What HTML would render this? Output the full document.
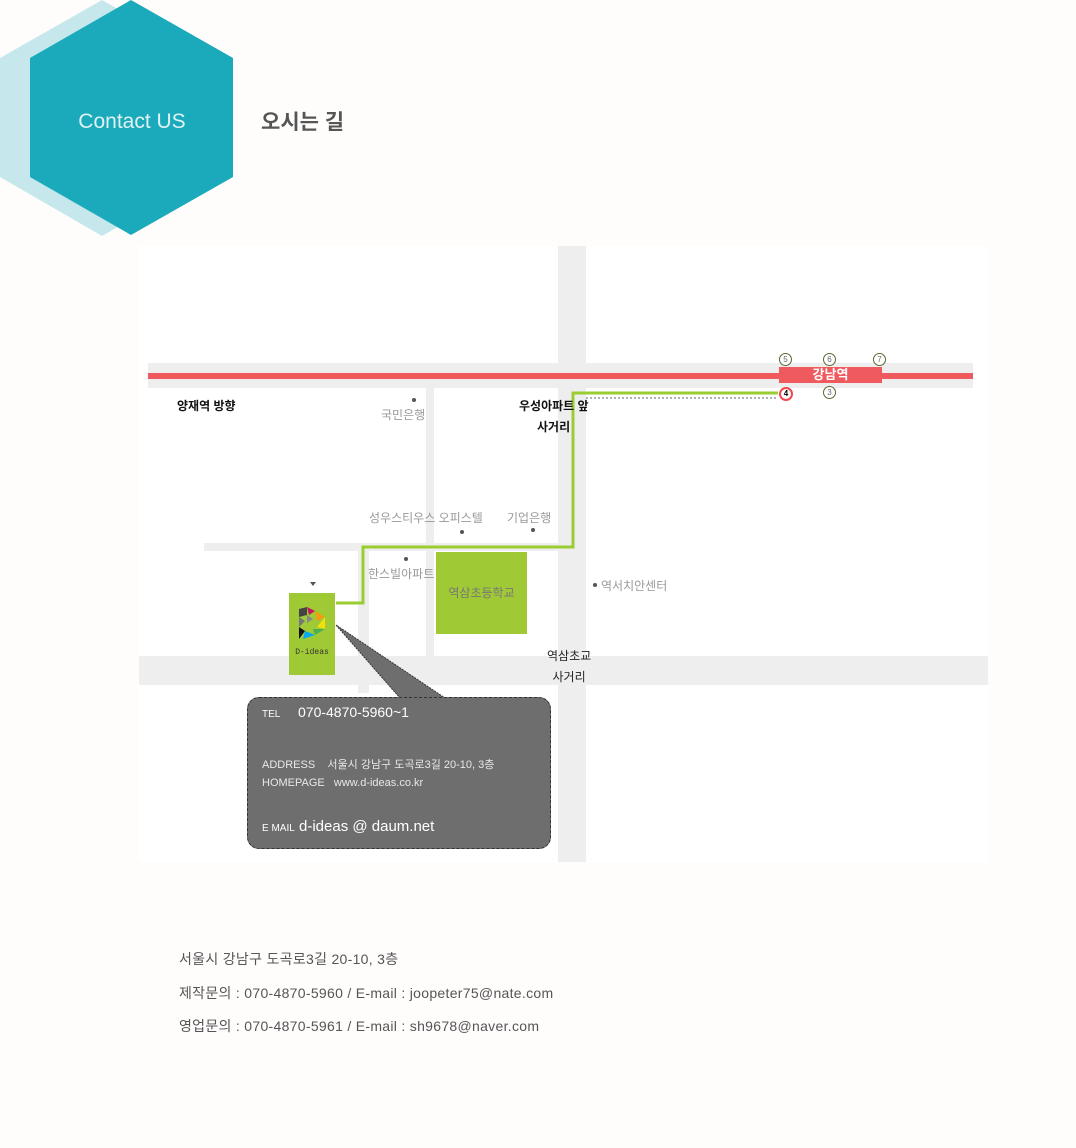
<!DOCTYPE html>
<html><head><meta charset="utf-8"><style>
body{margin:0;width:1076px;height:1148px;background:#fffcfc;position:relative;overflow:hidden;font-family:"Liberation Sans","Noto Sans CJK KR",sans-serif}
.a{position:absolute}
.r{position:absolute;background:#eeeeee}
.t{position:absolute;font-size:12px;color:#999;white-space:nowrap}
.b{position:absolute;font-size:12px;color:#111;white-space:nowrap;font-weight:bold}
.d{position:absolute;width:4px;height:4px;border-radius:50%;background:#555}
.c{position:absolute;width:11px;height:11px;border:1.5px solid #556b2f;border-radius:50%;font-size:8px;line-height:11px;text-align:center;color:#666;background:#fff}
.f{position:absolute;left:179px;font-size:14px;color:#555;letter-spacing:0.3px;white-space:nowrap}
</style></head><body>
<svg class="a" style="left:0;top:0" width="240" height="240">
<polygon points="102,0 204,58 204,177 102,236 0,177 0,58" fill="#c6e8ec"/>
<polygon points="131,0 233,58 233,177 131,235 30,177 30,58" fill="#1aaabb"/>
<text x="132" y="128" text-anchor="middle" font-size="21" fill="#dff2f4" font-family="Liberation Sans,sans-serif">Contact US</text>
</svg>
<div class="a" style="left:261px;top:106px;font-size:21px;font-weight:bold;color:#555">오시는 길</div>

<div class="a" style="left:139px;top:246px;width:849px;height:616px;background:#fff"></div>
<div class="r" style="left:558px;top:246px;width:28px;height:616px"></div>
<div class="r" style="left:148px;top:363px;width:825px;height:25px"></div>
<div class="a" style="left:148px;top:373px;width:825px;height:6px;background:#ef5a5f"></div>
<div class="r" style="left:139px;top:656px;width:849px;height:29px"></div>
<div class="r" style="left:204px;top:543px;width:371px;height:8px"></div>
<div class="r" style="left:426px;top:388px;width:8px;height:268px"></div>
<div class="r" style="left:358px;top:551px;width:11px;height:142px"></div>

<svg class="a" style="left:0;top:0" width="1076" height="900">
<polyline points="336,603 363,603 363,547 573,547 573,393 778,393" fill="none" stroke="#9acd32" stroke-width="3"/>
<line x1="586" y1="398" x2="778" y2="398" stroke="#666" stroke-width="1" stroke-dasharray="2,2"/>
<polygon points="336,625 400,698 445,698" fill="#6e6e6e" stroke="#333" stroke-dasharray="2,1"/>
<polygon points="310,582 316,582 313,586" fill="#555"/>
</svg>

<div class="a" style="left:779px;top:367px;width:103px;height:16px;background:#ef5a5f;color:#fff;font-size:13px;font-weight:bold;text-align:center;line-height:16px">강남역</div>
<div class="c" style="left:779px;top:353px">5</div>
<div class="c" style="left:823px;top:353px">6</div>
<div class="c" style="left:873px;top:353px">7</div>
<div class="c" style="left:823px;top:386px">3</div>
<div class="c" style="left:779px;top:387px;border:2.5px solid #ef4a50;width:10px;height:10px;line-height:10px;color:#000;font-weight:bold">4</div>

<div class="b" style="left:177px;top:397px">양재역 방향</div>
<div class="b" style="left:519px;top:397px">우성아파트 앞</div>
<div class="b" style="left:537px;top:418px">사거리</div>
<div class="d" style="left:412px;top:398px"></div>
<div class="t" style="left:381px;top:406px">국민은행</div>
<div class="t" style="left:369px;top:509px">성우스티우스 오피스텔</div>
<div class="d" style="left:460px;top:530px"></div>
<div class="t" style="left:507px;top:509px">기업은행</div>
<div class="d" style="left:531px;top:528px"></div>
<div class="d" style="left:404px;top:557px"></div>
<div class="t" style="left:368px;top:565px">한스빌아파트</div>
<div class="d" style="left:593px;top:583px"></div>
<div class="t" style="left:601px;top:577px">역서치안센터</div>
<div class="a" style="left:436px;top:552px;width:91px;height:82px;background:#a0c936;color:#777;font-size:12px;text-align:center;line-height:82px">역삼초등학교</div>
<div class="a" style="left:547px;top:646px;font-size:12px;color:#222;text-align:center;line-height:21px">역삼초교<br>사거리</div>

<div class="a" style="left:289px;top:593px;width:46px;height:82px;background:#a0c936"></div>
<svg class="a" style="left:297px;top:607px" width="34" height="34">
<polygon points="2,2 10,0 10,8 2,10" fill="#444"/><polygon points="10,0 18,4 12,8" fill="#c2185b"/><polygon points="18,4 28,10 20,14" fill="#f39c12"/>
<polygon points="28,10 28,22 20,20" fill="#f1e00a"/><polygon points="28,22 18,28 16,22" fill="#4caf50"/><polygon points="18,28 6,32 8,24" fill="#03a9f4"/>
<polygon points="2,10 8,14 2,20" fill="#777"/><polygon points="2,20 8,24 2,32" fill="#111"/><polygon points="10,8 16,12 10,16" fill="#888"/>
</svg>
<div class="a" style="left:286px;top:648px;width:52px;font-size:8px;text-align:center;color:#333;font-family:'Liberation Mono',monospace;white-space:nowrap">D-ideas</div>

<div class="a" style="left:247px;top:697px;width:302px;height:150px;background:#6e6e6e;border:1px dashed #333;border-radius:12px"></div>
<div class="a" style="left:262px;top:709px;font-size:10px;color:#fff">TEL</div>
<div class="a" style="left:298px;top:704px;font-size:14px;color:#fff">070-4870-5960~1</div>
<div class="a" style="left:262px;top:756px;font-size:11px;color:#e8e8e8">ADDRESS&nbsp;&nbsp;&nbsp; 서울시 강남구 도곡로3길 20-10, 3층</div>
<div class="a" style="left:262px;top:777px;font-size:11px;color:#e8e8e8">HOMEPAGE&nbsp;&nbsp; www.d-ideas.co.kr</div>
<div class="a" style="left:262px;top:823px;font-size:10px;color:#fff">E MAIL</div>
<div class="a" style="left:299px;top:818px;font-size:15px;color:#fff">d-ideas @ daum.net</div>

<div class="f" style="top:949px">서울시 강남구 도곡로3길 20-10, 3층</div>
<div class="f" style="top:983px">제작문의 : 070-4870-5960 / E-mail : joopeter75@nate.com</div>
<div class="f" style="top:1016px">영업문의 : 070-4870-5961 / E-mail : sh9678@naver.com</div>
</body></html>
